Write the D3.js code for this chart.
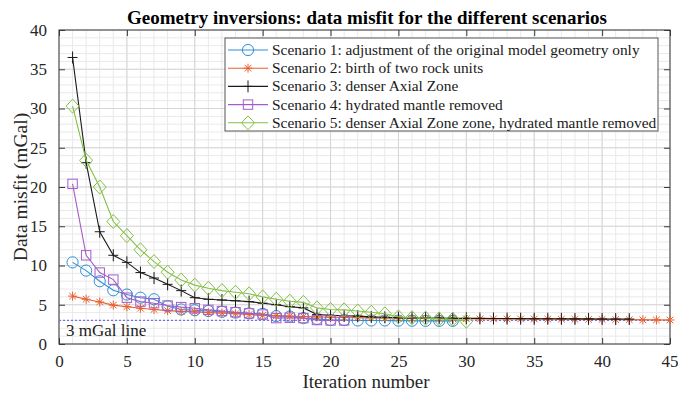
<!DOCTYPE html>
<html>
<head>
<meta charset="utf-8">
<script src="https://cdn.jsdelivr.net/npm/d3@7"></script>
<style>
  html, body { margin: 0; padding: 0; background: #fff; }
  svg { display: block; font-family: "Liberation Serif", "Times New Roman", serif; }
  svg text { font-family: "Liberation Serif", "Times New Roman", serif; }
</style>
</head>
<body>
<svg id="chart" width="678" height="393"></svg>
<script>
// Data misfit (mGal) per inversion iteration, one array per scenario
const scenario1 = [10.4, 9.35, 8.0, 6.85, 6.3, 5.9, 5.7, 4.8, 4.4, 4.3, 4.2, 4.1, 4.0, 3.9, 3.85, 3.55, 3.5, 3.3, 3.2, 3.05,
                   3.05, 3.0, 3.0, 3.0, 2.98, 2.97, 2.95, 2.95, 2.95];
const scenario2 = [6.1, 5.7, 5.35, 4.95, 4.75, 4.55, 4.4, 4.25, 4.15, 4.1, 4.0, 3.95, 3.85, 3.75, 3.65, 3.6, 3.55, 3.5, 3.45, 3.4,
                   3.38, 3.35, 3.33, 3.3, 3.28, 3.26, 3.25, 3.24, 3.22, 3.21, 3.2, 3.2, 3.19, 3.19, 3.18, 3.17, 3.16, 3.15,
                   3.14, 3.13, 3.12, 3.1, 3.08, 3.07, 3.06];
const scenario3 = [36.5, 23.1, 14.3, 11.3, 10.4, 9.1, 8.4, 7.6, 6.8, 5.9, 5.7, 5.6, 5.5, 5.4, 5.2, 5.0, 4.75, 4.6, 3.75, 3.65,
                   3.6, 3.55, 3.45, 3.4, 3.35, 3.33, 3.3, 3.3, 3.28, 3.27, 3.26, 3.25, 3.24, 3.23, 3.22, 3.22, 3.21, 3.2,
                   3.2, 3.19, 3.18, 3.18];
const scenario4 = [20.4, 11.3, 9.1, 8.2, 5.9, 5.4, 5.2, 4.9, 4.7, 4.55, 4.35, 4.2, 4.05, 3.9, 3.75, 3.3, 3.35, 3.3, 3.05, 3.0, 3.0];
const scenario5 = [30.3, 23.4, 20.0, 15.6, 13.8, 12.0, 10.5, 9.15, 8.15, 7.5, 7.1, 6.8, 6.6, 6.4, 6.0, 5.7, 5.45, 5.3, 4.6, 4.4,
                   4.35, 4.2, 4.05, 3.85, 3.45, 3.35, 3.3, 3.2, 3.15, 2.9];

const legendLabels = [
  "Scenario 1: adjustment of the original model geometry only",
  "Scenario 2: birth of two rock units",
  "Scenario 3: denser Axial Zone",
  "Scenario 4: hydrated mantle removed",
  "Scenario 5: denser Axial Zone zone, hydrated mantle removed"
];
const seriesColors = ["#2f8fd6", "#e8602f", "#1a1a1a", "#a65cc8", "#84c044"];
const seriesMarkers = ["circle", "asterisk", "plus", "square", "diamond"];

const xTicks = [0, 5, 10, 15, 20, 25, 30, 35, 40, 45];
const yTicks = [0, 5, 10, 15, 20, 25, 30, 35, 40];
const thresholdValue = 3;

const series = [scenario1, scenario2, scenario3, scenario4, scenario5].map((vals, i) => ({
  label: legendLabels[i],
  color: seriesColors[i],
  marker: seriesMarkers[i],
  points: vals.map((v, k) => ({ it: k + 1, v }))
}));

const svg = d3.select("#chart");
const x = d3.scaleLinear().domain([0, 45]).range([59, 670]);
const y = d3.scaleLinear().domain([0, 40]).range([344, 30]);

// Grid: minor every unit, major at the tick positions
const grid = svg.append("g");
grid.selectAll(".gxm").data(d3.range(1, 45)).join("line")
  .attr("x1", d => x(d)).attr("x2", d => x(d)).attr("y1", y(0)).attr("y2", y(40))
  .attr("stroke", "#e9e9e9").attr("stroke-width", 1);
grid.selectAll(".gym").data(d3.range(1, 40)).join("line")
  .attr("y1", d => y(d)).attr("y2", d => y(d)).attr("x1", x(0)).attr("x2", x(45))
  .attr("stroke", "#e9e9e9").attr("stroke-width", 1);
grid.selectAll(".gx").data(xTicks).join("line")
  .attr("x1", d => x(d)).attr("x2", d => x(d)).attr("y1", y(0)).attr("y2", y(40))
  .attr("stroke", "#d6d6d6").attr("stroke-width", 1);
grid.selectAll(".gy").data(yTicks).join("line")
  .attr("y1", d => y(d)).attr("y2", d => y(d)).attr("x1", x(0)).attr("x2", x(45))
  .attr("stroke", "#d6d6d6").attr("stroke-width", 1);

// Axes with inward ticks on all four sides
const axisColor = "#3a3a3a";
function styleAxis(g) {
  g.attr("font-family", null).attr("font-size", null);
  g.select(".domain").remove();
  g.selectAll(".tick line").attr("stroke", axisColor);
  g.selectAll(".tick text").attr("fill", "#262626")
    .style("font-family", '"Liberation Serif", serif').style("font-size", "17px");
}
const bottomAxis = svg.append("g").attr("transform", `translate(0,${y(0)})`)
  .call(d3.axisBottom(x).tickValues(xTicks).tickSize(-6).tickPadding(11).tickFormat(d3.format("d")))
  .call(styleAxis);
// keep the last label inside the page edge
bottomAxis.selectAll(".tick text").filter(d => d === 45).attr("text-anchor", "end").attr("dx", "8px");
svg.append("g").attr("transform", `translate(0,${y(40)})`)
  .call(d3.axisTop(x).tickValues(xTicks).tickSize(-6).tickFormat(""))
  .call(styleAxis);
svg.append("g").attr("transform", `translate(${x(0)},0)`)
  .call(d3.axisLeft(y).tickValues(yTicks).tickSize(-6).tickPadding(12).tickFormat(d3.format("d")))
  .call(styleAxis);
svg.append("g").attr("transform", `translate(${x(45)},0)`)
  .call(d3.axisRight(y).tickValues(yTicks).tickSize(-6).tickFormat(""))
  .call(styleAxis);

svg.append("rect")
  .attr("x", x(0)).attr("y", y(40)).attr("width", x(45) - x(0)).attr("height", y(0) - y(40))
  .attr("fill", "none").attr("stroke", axisColor).attr("stroke-width", 1);

// 3 mGal reference line
svg.append("line")
  .attr("x1", x(0)).attr("x2", x(45)).attr("y1", y(thresholdValue)).attr("y2", y(thresholdValue))
  .attr("stroke", "#6f6ff2").attr("stroke-width", 1.2).attr("stroke-dasharray", "2,2");
svg.append("text").attr("x", x(0) + 7).attr("y", y(thresholdValue) + 16)
  .attr("font-size", "17px").attr("fill", "#1a1a1a").text("3 mGal line");

// Marker drawing helper
function drawMarker(g, type, color, cx, cy) {
  const s = g.append("g").attr("transform", `translate(${cx},${cy})`)
    .attr("fill", "none").attr("stroke", color).attr("stroke-width", 1);
  if (type === "circle") {
    s.append("circle").attr("r", 5.6);
  } else if (type === "square") {
    s.append("rect").attr("x", -4.7).attr("y", -4.7).attr("width", 9.4).attr("height", 9.4);
  } else if (type === "diamond") {
    s.append("path").attr("d", "M0,-7L6.5,0L0,7L-6.5,0Z");
  } else if (type === "plus") {
    s.append("path").attr("d", "M-5,0H5M0,-6V6");
  } else if (type === "asterisk") {
    s.append("path").attr("d", "M-4.5,0H4.5M0,-4.5V4.5M-3.3,-3.3L3.3,3.3M-3.3,3.3L3.3,-3.3");
  }
}

const line = d3.line().x(d => x(d.it)).y(d => y(d.v));
const plot = svg.append("g");
series.forEach(s => {
  const g = plot.append("g");
  g.append("path").datum(s.points).attr("d", line)
    .attr("fill", "none").attr("stroke", s.color).attr("stroke-width", 1.1);
  s.points.forEach(p => drawMarker(g, s.marker, s.color, x(p.it), y(p.v)));
});

// Legend
const lg = svg.append("g");
lg.append("rect").attr("x", 225).attr("y", 38).attr("width", 433).attr("height", 93)
  .attr("fill", "#fff").attr("stroke", "#555").attr("stroke-width", 1);
series.forEach((s, i) => {
  const cy = 50 + i * 18.2;
  lg.append("line").attr("x1", 228).attr("x2", 268).attr("y1", cy).attr("y2", cy)
    .attr("stroke", s.color).attr("stroke-width", 1.1);
  drawMarker(lg, s.marker, s.color, 248, cy);
  lg.append("text").attr("x", 272).attr("y", cy + 5).attr("font-size", "15.4px")
    .attr("fill", "#1a1a1a").text(s.label);
});

// Title and axis labels
svg.append("text").attr("x", 367).attr("y", 24).attr("text-anchor", "middle")
  .attr("font-size", "19px").attr("font-weight", "bold").attr("fill", "#000")
  .text("Geometry inversions: data misfit for the different scenarios");
svg.append("text").attr("x", 366).attr("y", 388).attr("text-anchor", "middle")
  .attr("font-size", "19px").attr("fill", "#262626").text("Iteration number");
svg.append("text").attr("transform", `translate(27,${(y(0) + y(40)) / 2}) rotate(-90)`)
  .attr("text-anchor", "middle").attr("font-size", "19.5px").attr("fill", "#262626")
  .text("Data misfit (mGal)");
</script>
</body>
</html>
